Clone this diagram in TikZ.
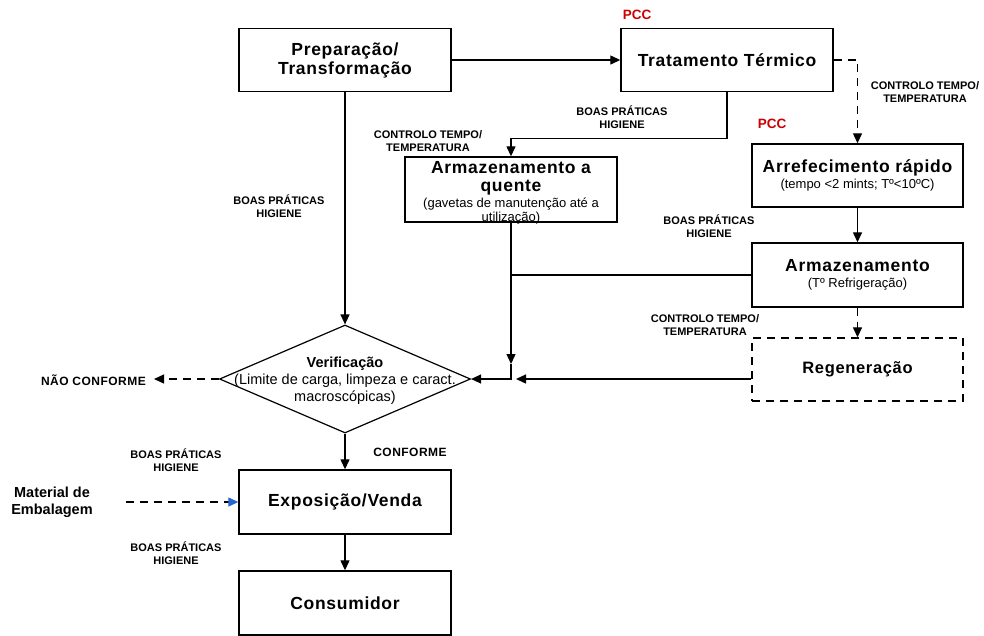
\documentclass[tikz,border=0pt]{standalone}
\usepackage{fontspec}
\setmainfont{Liberation Sans}
\newfontfamily\widesans{Liberation Sans}[LetterSpace=4]
\usetikzlibrary{arrows.meta,shapes.geometric}
\definecolor{pccred}{RGB}{204,0,0}
\definecolor{arrblue}{RGB}{40,100,210}
\newcommand{\subtxt}{\normalfont\fontsize{13}{14}\selectfont}
\begin{document}
\begin{tikzpicture}[x=1pt,y=-1pt,
  box/.style={draw,line width=1.4pt,minimum width=212pt,minimum height=63pt,inner sep=0pt,align=center,
    font=\widesans\bfseries\fontsize{17.5}{19}\selectfont},
  lbl/.style={align=center,inner sep=0pt,font=\bfseries\fontsize{11}{13}\selectfont},
  pcc/.style={inner sep=0pt,text=pccred,font=\bfseries\fontsize{13.5}{15}\selectfont},
  conn/.style={line width=1.3pt},
  arr/.style={conn,-{Triangle[length=10pt,width=9pt]}},
  dsh/.style={dash pattern=on 8pt off 6pt}
]
\useasboundingbox (0,0) rectangle (984,635);

% boxes
\node[box] (prep) at (345,60) {Preparação/\\Transformação};
\node[box] (trat) at (727,60) {Tratamento Térmico};
\node[box,minimum height=65pt] (aq) at (511,189.5) {};
\node[align=center,inner sep=0pt,font=\widesans\bfseries\fontsize{17.5}{17.5}\selectfont] (aqtext) at (511,193)
  {Armazenamento a\\quente\\[-1pt]{\subtxt (gavetas de manutenção até a}\\[-4pt]{\subtxt utilização)}};
\node[box,minimum width=211pt] (arref) at (857.5,175.5) {Arrefecimento rápido\\[-3pt]{\subtxt (tempo <2 mints; Tº<10ºC)}};
\node[box,minimum width=211pt,minimum height=64pt] (armaz) at (857.5,275) {Armazenamento\\[-3pt]{\subtxt (Tº Refrigeração)}};
\node[box,minimum width=211pt,dsh,font=\widesans\bfseries\fontsize{16.5}{18}\selectfont] (regen) at (857.5,369.5) {Regeneração};
\node[draw,diamond,line width=1.2pt,minimum width=251pt,minimum height=108pt,inner sep=0pt] (ver) at (345,379) {};
\node[align=center,inner sep=0pt,font=\fontsize{14.5}{17}\selectfont] (vertext) at (345,381)
  {\textbf{Verificação}\\(Limite de carga, limpeza e caract.\\macroscópicas)};
\node[box,minimum height=64pt] (expo) at (345,502) {Exposição/Venda};
\node[box,minimum height=64pt] (cons) at (345,603) {Consumidor};

% labels
\node[pcc] (pcc1) at (637,15) {PCC};
\node[pcc] (pcc2) at (772,124) {PCC};
\node[lbl] (l1) at (622,117) {BOAS PRÁTICAS\\HIGIENE};
\node[lbl] (l2) at (428,141) {CONTROLO TEMPO/\\TEMPERATURA};
\node[lbl] (l3) at (925,92) {CONTROLO TEMPO/\\TEMPERATURA};
\node[lbl] (l4) at (709,226) {BOAS PRÁTICAS\\HIGIENE};
\node[lbl] (l5) at (705,325) {CONTROLO TEMPO/\\TEMPERATURA};
\node[lbl] (l6) at (279,206) {BOAS PRÁTICAS\\HIGIENE};
\node[lbl,anchor=east,font=\widesans\bfseries\fontsize{12}{13}\selectfont] (nc) at (146,380) {NÃO CONFORME};
\node[lbl,font=\widesans\bfseries\fontsize{12}{13}\selectfont] (conf) at (410,452) {CONFORME};
\node[lbl] (l7) at (176,460) {BOAS PRÁTICAS\\HIGIENE};
\node[lbl] (l8) at (176,553) {BOAS PRÁTICAS\\HIGIENE};
\node[align=center,inner sep=0pt,font=\bfseries\fontsize{14.5}{17}\selectfont] (mat) at (52,502) {Material de\\Embalagem};

% coordinates
\coordinate (j) at (511,379);
\coordinate (j1) at (511,364);
\coordinate (j2) at (516,379);
\coordinate (ncend) at (154,379);
\coordinate (matstart) at (126,502);

% connectors
\draw[arr] (prep.east) -- (trat.west);
\draw[arr] (trat.south) -- ++(0,46) -| (aq.north);
\draw[arr,dsh] (trat.east) -| (arref.north);
\draw[arr] (arref.south) -- (armaz.north);
\draw[arr,dsh] (armaz.south) -- (regen.north);
\draw[conn] (armaz.west) -- (armaz.west -| aq.south);
\draw[arr] (aq.south) -- (j1);
\draw[arr] (j1) -- (j) -- (ver.east);
\draw[arr] (regen.west |- j) -- (j2);
\draw[arr] (prep.south) -- (ver.north);
\draw[arr,dsh] (ver.west) -- (ncend);
\draw[arr] (ver.south) -- (expo.north);
\draw[conn,dsh,-{Triangle[length=10pt,width=9pt,color=arrblue]}] (matstart) -- (expo.west);
\draw[arr] (expo.south) -- (cons.north);
\end{tikzpicture}
\end{document}
